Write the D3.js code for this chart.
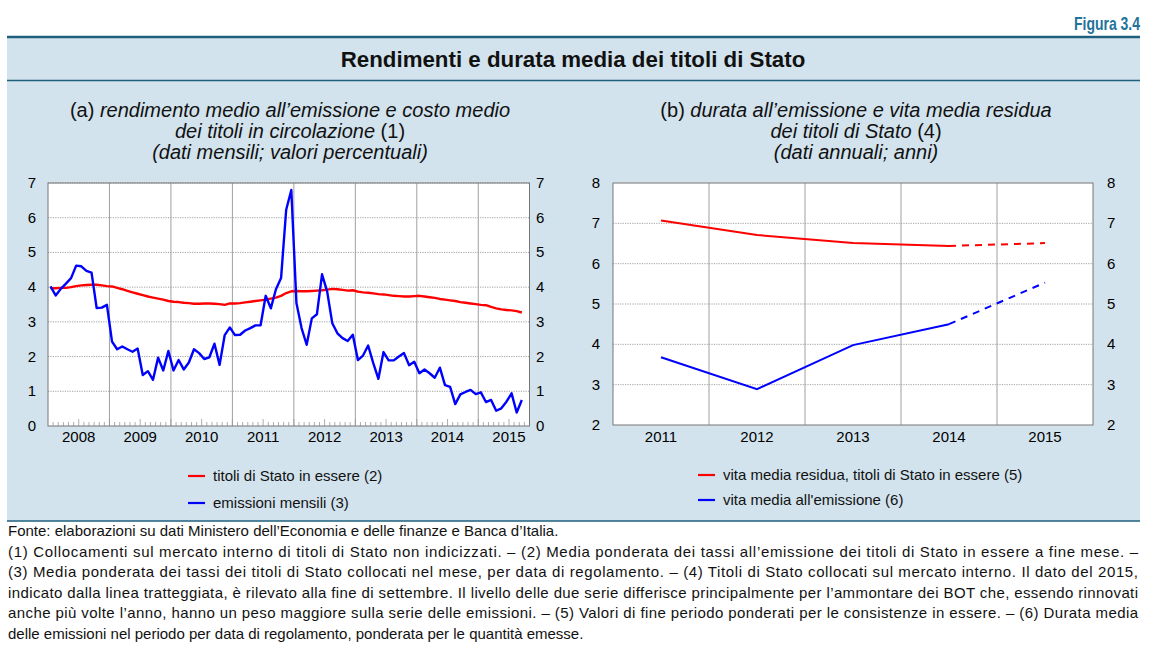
<!DOCTYPE html>
<html>
<head>
<meta charset="utf-8">
<script src="https://cdn.jsdelivr.net/npm/d3@7.9.0/dist/d3.min.js"></script>
<style>
  body { margin: 0; background: #fff; }
  svg { font-family: "Liberation Sans", Arial, sans-serif; }
</style>
</head>
<body>
<svg id="fig" width="1168" height="653"></svg>
<script>
// --- data ---
const yearsA = [2008, 2009, 2010, 2011, 2012, 2013, 2014, 2015];
// monthly, Jan 2008 .. Sep 2015
const titoliInEssere = [
  3.97, 3.97, 3.98, 3.98, 4.00, 4.03, 4.05, 4.06, 4.07, 4.07, 4.05, 4.03,
  4.02, 3.98, 3.94, 3.89, 3.85, 3.81, 3.77, 3.73, 3.70, 3.67, 3.64, 3.60,
  3.58, 3.57, 3.55, 3.54, 3.52, 3.52, 3.53, 3.53, 3.52, 3.51, 3.49, 3.53,
  3.53, 3.54, 3.56, 3.58, 3.60, 3.62, 3.64, 3.67, 3.70, 3.75, 3.83, 3.88,
  3.89, 3.88, 3.88, 3.89, 3.90, 3.91, 3.93, 3.95, 3.94, 3.92, 3.90, 3.91,
  3.87, 3.85, 3.84, 3.82, 3.80, 3.79, 3.77, 3.75, 3.74, 3.73, 3.73, 3.74,
  3.75, 3.73, 3.71, 3.69, 3.66, 3.64, 3.62, 3.60, 3.57, 3.55, 3.53, 3.51,
  3.49, 3.48, 3.43, 3.39, 3.36, 3.34, 3.33, 3.31, 3.27
];
const emissioniMensili = [
  4.02, 3.76, 3.95, 4.10, 4.26, 4.62, 4.60, 4.47, 4.42, 3.40, 3.41, 3.49,
  2.43, 2.21, 2.29, 2.21, 2.14, 2.23, 1.47, 1.58, 1.33, 1.97, 1.60, 2.16,
  1.60, 1.90, 1.63, 1.83, 2.21, 2.10, 1.93, 1.98, 2.37, 1.76, 2.62, 2.84,
  2.62, 2.63, 2.75, 2.82, 2.90, 2.90, 3.75, 3.39, 3.94, 4.26, 6.23, 6.80,
  3.54, 2.82, 2.34, 3.10, 3.22, 4.37, 3.87, 2.96, 2.67, 2.53, 2.45, 2.63,
  1.90, 2.03, 2.32, 1.81, 1.36, 2.13, 1.89, 1.89, 2.00, 2.10, 1.75, 1.85,
  1.52, 1.63, 1.52, 1.39, 1.68, 1.18, 1.13, 0.63, 0.91, 0.98, 1.04, 0.92,
  0.97, 0.69, 0.75, 0.44, 0.51, 0.70, 0.94, 0.39, 0.75
];
const ticksA = [0, 1, 2, 3, 4, 5, 6, 7];

const yearsB = [2011, 2012, 2013, 2014, 2015];
const vitaResidua = [7.07, 6.71, 6.51, 6.44, 6.51];
const vitaEmissione = [3.68, 2.89, 3.98, 4.50, 5.53];
const ticksB = [2, 3, 4, 5, 6, 7, 8];

const footnotes = [
  "Fonte: elaborazioni su dati Ministero dell’Economia e delle finanze e Banca d’Italia.",
  "(1) Collocamenti sul mercato interno di titoli di Stato non indicizzati. – (2) Media ponderata dei tassi all’emissione dei titoli di Stato in essere a fine mese. –",
  "(3) Media ponderata dei tassi dei titoli di Stato collocati nel mese, per data di regolamento. – (4) Titoli di Stato collocati sul mercato interno. Il dato del 2015,",
  "indicato dalla linea tratteggiata, è rilevato alla fine di settembre. Il livello delle due serie differisce principalmente per l’ammontare dei BOT che, essendo rinnovati",
  "anche più volte l’anno, hanno un peso maggiore sulla serie delle emissioni. – (5) Valori di fine periodo ponderati per le consistenze in essere. – (6) Durata media",
  "delle emissioni nel periodo per data di regolamento, ponderata per le quantità emesse."
];

const svg = d3.select("#fig");
const teal = "#1d5f7c";

// panel background + rules
svg.append("rect").attr("x", 7).attr("y", 37).attr("width", 1133).attr("height", 484).attr("fill", "#d2e3ed");
[[37, 2.5], [80.5, 1.5], [521, 1.5]].forEach(([y, w]) =>
  svg.append("line").attr("x1", 7).attr("x2", 1140).attr("y1", y).attr("y2", y)
    .attr("stroke", teal).attr("stroke-width", w));

svg.append("text").attr("x", 1140).attr("y", 30).attr("text-anchor", "end")
  .attr("font-weight", "bold").attr("font-size", 19).attr("fill", "#22739a")
  .attr("textLength", 66).attr("lengthAdjust", "spacingAndGlyphs").text("Figura 3.4");
svg.append("text").attr("x", 573).attr("y", 67).attr("text-anchor", "middle")
  .attr("font-weight", "bold").attr("font-size", 22.3).attr("fill", "#111")
  .text("Rendimenti e durata media dei titoli di Stato");

// panel subtitles: array of lines, each line = list of [text, italic]
function subtitle(cx, lines) {
  lines.forEach((parts, i) => {
    const t = svg.append("text").attr("x", cx).attr("y", 117 + i * 21)
      .attr("text-anchor", "middle").attr("font-size", 20).attr("fill", "#111");
    parts.forEach(([s, it]) => t.append("tspan").attr("font-style", it ? "italic" : "normal").text(s));
  });
}
subtitle(290, [
  [["(a) ", false], ["rendimento medio all’emissione e costo medio", true]],
  [["dei titoli in circolazione ", true], ["(1)", false]],
  [["(dati mensili; valori percentuali)", true]]
]);
subtitle(856, [
  [["(b) ", false], ["durata all’emissione e vita media residua", true]],
  [["dei titoli di Stato ", true], ["(4)", false]],
  [["(dati annuali; anni)", true]]
]);

// ---------- panel (a) ----------
const a = { l: 48, r: 529.5, t: 183, b: 426 };
const xA = d3.scaleLinear().domain([0, 94]).range([a.l, a.r]);
const yA = d3.scaleLinear().domain([0, 7]).range([a.b, a.t]);
const gA = svg.append("g");
gA.append("rect").attr("x", a.l).attr("y", a.t).attr("width", a.r - a.l).attr("height", a.b - a.t).attr("fill", "#fff");
gA.selectAll(".hg").data(ticksA.slice(1)).join("line")
  .attr("x1", a.l).attr("x2", a.r).attr("y1", d => yA(d)).attr("y2", d => yA(d))
  .attr("stroke", "#8a8a8a").attr("stroke-width", 0.8).attr("stroke-dasharray", "1.2,1.2");
gA.selectAll(".vg").data(yearsA.slice(1)).join("line")
  .attr("x1", d => xA((d - 2008) * 12)).attr("x2", d => xA((d - 2008) * 12))
  .attr("y1", a.t).attr("y2", a.b).attr("stroke", "#a0a0a0").attr("stroke-width", 1);
// monthly ticks
gA.selectAll(".mt").data(d3.range(1, 94)).join("line")
  .attr("x1", d => xA(d)).attr("x2", d => xA(d))
  .attr("y1", a.b).attr("y2", d => a.b - (d % 6 === 0 ? 7 : 4))
  .attr("stroke", "#999").attr("stroke-width", 0.8);
gA.append("rect").attr("x", a.l).attr("y", a.t).attr("width", a.r - a.l).attr("height", a.b - a.t)
  .attr("fill", "none").attr("stroke", "#777").attr("stroke-width", 1);

const lineA = d3.line().x((d, i) => xA(i + 0.5)).y(d => yA(d));
gA.append("path").attr("d", lineA(titoliInEssere)).attr("fill", "none")
  .attr("stroke", "#ff0000").attr("stroke-width", 2.4).attr("stroke-linejoin", "round");
gA.append("path").attr("d", lineA(emissioniMensili)).attr("fill", "none")
  .attr("stroke", "#0000ff").attr("stroke-width", 2.4).attr("stroke-linejoin", "round");

const axisFont = 15;
gA.selectAll(".yl").data(ticksA).join("text").attr("x", 36).attr("y", d => yA(d) + 5)
  .attr("text-anchor", "end").attr("font-size", axisFont).text(d => d);
gA.selectAll(".yr").data(ticksA).join("text").attr("x", 536).attr("y", d => yA(d) + 5)
  .attr("text-anchor", "start").attr("font-size", axisFont).text(d => d);
gA.selectAll(".xl").data(yearsA).join("text")
  .attr("x", d => xA((d - 2008) * 12 + 6)).attr("y", 442)
  .attr("text-anchor", "middle").attr("font-size", axisFont).text(d => d);

// ---------- panel (b) ----------
const b = { l: 613, r: 1093, t: 183, b: 425 };
const xB = d3.scaleBand().domain(yearsB).range([b.l, b.r]);
const yB = d3.scaleLinear().domain([2, 8]).range([b.b, b.t]);
const cx = d => xB(d) + xB.bandwidth() / 2;
const gB = svg.append("g");
gB.append("rect").attr("x", b.l).attr("y", b.t).attr("width", b.r - b.l).attr("height", b.b - b.t).attr("fill", "#fff");
gB.selectAll(".hg").data(ticksB.slice(1, -1)).join("line")
  .attr("x1", b.l).attr("x2", b.r).attr("y1", d => yB(d)).attr("y2", d => yB(d))
  .attr("stroke", "#8a8a8a").attr("stroke-width", 0.8).attr("stroke-dasharray", "1.2,1.2");
gB.selectAll(".vg").data(yearsB.slice(1)).join("line")
  .attr("x1", d => xB(d)).attr("x2", d => xB(d))
  .attr("y1", b.t).attr("y2", b.b).attr("stroke", "#a0a0a0").attr("stroke-width", 1);
gB.append("rect").attr("x", b.l).attr("y", b.t).attr("width", b.r - b.l).attr("height", b.b - b.t)
  .attr("fill", "none").attr("stroke", "#777").attr("stroke-width", 1);

const lineB = d3.line().x(d => cx(d[0])).y(d => yB(d[1]));
function drawSeries(vals, color) {
  const pts = yearsB.map((y, i) => [y, vals[i]]);
  gB.append("path").attr("d", lineB(pts.slice(0, 4))).attr("fill", "none")
    .attr("stroke", color).attr("stroke-width", 2);
  gB.append("path").attr("d", lineB(pts.slice(3))).attr("fill", "none")
    .attr("stroke", color).attr("stroke-width", 2).attr("stroke-dasharray", "7,6");
}
drawSeries(vitaResidua, "#ff0000");
drawSeries(vitaEmissione, "#0000ff");

gB.selectAll(".yl").data(ticksB).join("text").attr("x", 600).attr("y", d => yB(d) + 5)
  .attr("text-anchor", "end").attr("font-size", axisFont).text(d => d);
gB.selectAll(".yr").data(ticksB).join("text").attr("x", 1107).attr("y", d => yB(d) + 5)
  .attr("text-anchor", "start").attr("font-size", axisFont).text(d => d);
gB.selectAll(".xl").data(yearsB).join("text")
  .attr("x", d => cx(d)).attr("y", 442)
  .attr("text-anchor", "middle").attr("font-size", axisFont).text(d => d);

// ---------- legends ----------
function legend(x, y, color, label) {
  svg.append("line").attr("x1", x).attr("x2", x + 17).attr("y1", y).attr("y2", y)
    .attr("stroke", color).attr("stroke-width", 2.2);
  svg.append("text").attr("x", x + 25).attr("y", y + 5).attr("font-size", 15).attr("fill", "#111").text(label);
}
legend(188, 476, "#ff0000", "titoli di Stato in essere (2)");
legend(188, 503, "#0000ff", "emissioni mensili (3)");
legend(698, 475, "#ff0000", "vita media residua, titoli di Stato in essere (5)");
legend(698, 500, "#0000ff", "vita media all'emissione (6)");

// ---------- footnotes ----------
footnotes.forEach((s, i) => {
  const t = svg.append("text").attr("x", 8).attr("y", 536 + i * 20.6)
    .attr("font-size", 15).attr("fill", "#111").text(s);
  if (i >= 1 && i <= 4) t.attr("textLength", 1130).attr("lengthAdjust", "spacing");
});
</script>
</body>
</html>
